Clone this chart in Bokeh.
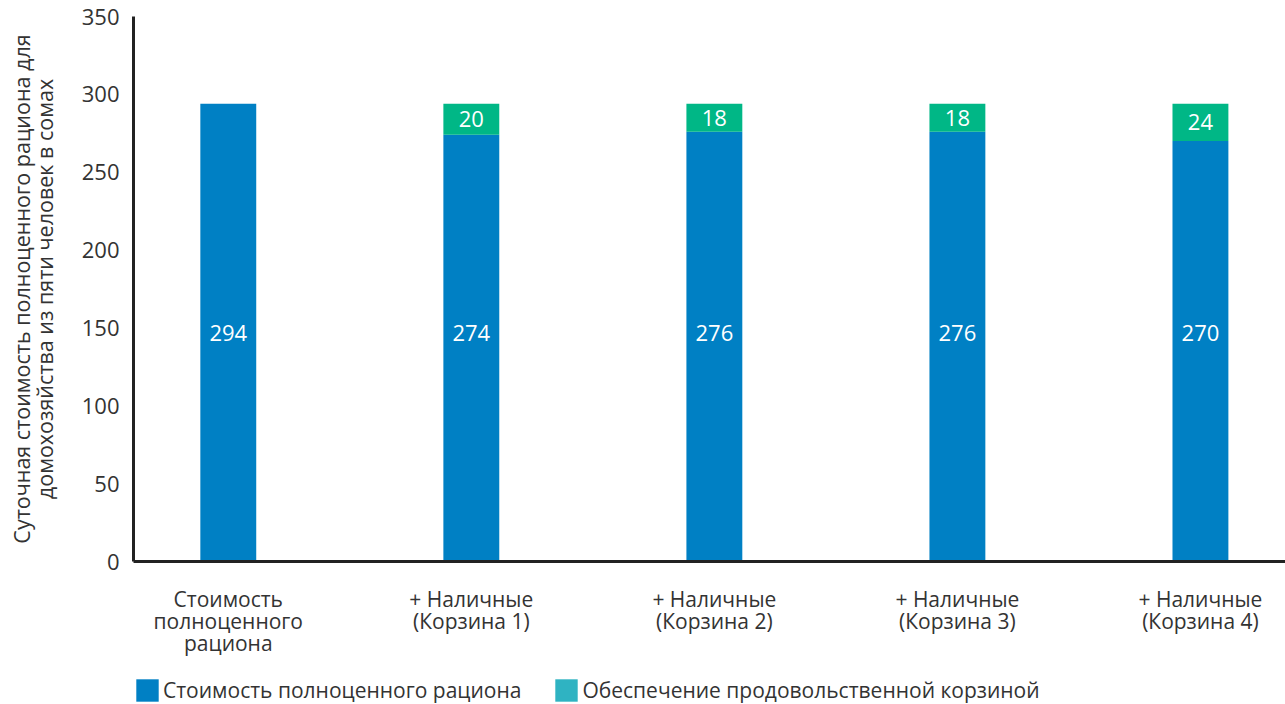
from bokeh.plotting import figure
from bokeh.layouts import column
from bokeh.models import ColumnDataSource, FixedTicker, Legend, LegendItem, Range1d, LabelSet
from bokeh.core.properties import value
from bokeh.embed import file_html
from bokeh.resources import INLINE

categories = ["Стоимость\nполноценного\nрациона",
              "+ Наличные\n(Корзина 1)",
              "+ Наличные\n(Корзина 2)",
              "+ Наличные\n(Корзина 3)",
              "+ Наличные\n(Корзина 4)"]
diet_cost = [294, 274, 276, 276, 270]
basket = [0, 20, 18, 18, 24]
y_ticks = [0, 50, 100, 150, 200, 250, 300, 350]
series_names = ["Стоимость полноценного рациона", "Обеспечение продовольственной корзиной"]

BLUE = "#0080C4"
GREEN = "#00B786"
TEAL = "#2FB3C2"
FONT = "Open Sans"
TXT = "#333333"

xs = list(range(len(categories)))
totals = [a + b for a, b in zip(diet_cost, basket)]
src = ColumnDataSource(dict(
    x=xs,
    diet=diet_cost,
    basket=basket,
    total=totals,
    diet_lbl=[str(v) for v in diet_cost],
    basket_lbl=[str(v) if v else "" for v in basket],
    diet_mid=[t / 2 for t in totals],
    basket_mid=[d + b / 2 for d, b in zip(diet_cost, basket)],
))

p = figure(width=1285, height=670, output_backend="svg", toolbar_location=None,
           x_range=Range1d(-0.39, 4.35), y_range=Range1d(0, 350),
           min_border_left=131, min_border_right=0, min_border_top=16, min_border_bottom=109)
p.outline_line_color = None
p.grid.grid_line_color = None
p.background_fill_color = "white"
p.border_fill_color = "white"

p.vbar(x="x", bottom=0, top="diet", width=0.23, source=src, fill_color=BLUE, line_color=None)
p.vbar(x="x", bottom="diet", top="total", width=0.23, source=src, fill_color=GREEN, line_color=None)

p.add_layout(LabelSet(x="x", y="diet_mid", text="diet_lbl", source=src, text_align="center",
                      text_baseline="middle", text_color="white", text_font=value(FONT),
                      text_font_size="22px"))
p.add_layout(LabelSet(x="x", y="basket_mid", text="basket_lbl", source=src, text_align="center",
                      text_baseline="middle", text_color="white", text_font=value(FONT),
                      text_font_size="22px"))

xa = p.xaxis[0]
xa.ticker = FixedTicker(ticks=xs)
xa.major_label_overrides = {i: c for i, c in enumerate(categories)}
xa.major_tick_line_color = None
xa.minor_tick_line_color = None
xa.axis_line_color = "#222222"
xa.axis_line_width = 3
xa.major_label_text_font = FONT
xa.major_label_text_font_size = "21px"
xa.major_label_text_line_height = 0.8
xa.major_label_text_color = TXT
xa.major_label_standoff = 17

ya = p.yaxis[0]
ya.ticker = FixedTicker(ticks=y_ticks)
ya.major_tick_line_color = None
ya.minor_tick_line_color = None
ya.axis_line_color = "#222222"
ya.axis_line_width = 3
ya.major_label_text_font = FONT
ya.major_label_text_font_size = "22px"
ya.major_label_text_color = TXT
ya.major_label_standoff = 8
ya.axis_label = "Суточная стоимость полноценного рациона для\nдомохозяйства из пяти человек в сомах"
ya.axis_label_text_font = FONT
ya.axis_label_text_font_size = "21.5px"
ya.axis_label_text_line_height = 0.8
ya.axis_label_text_font_style = "normal"
ya.axis_label_text_color = TXT
ya.axis_label_standoff = 20

# legend strip (second swatch is teal in the original legend)
lg = figure(width=1285, height=34, output_backend="svg", toolbar_location=None,
            x_range=Range1d(0, 1), y_range=Range1d(0, 1),
            min_border_left=133, min_border_right=0, min_border_top=0, min_border_bottom=0)
lg.axis.visible = False
lg.grid.grid_line_color = None
lg.outline_line_color = None
l1 = lg.vbar(x=[5], bottom=[5], top=[6], width=0.2, fill_color=BLUE, line_color=None)
l2 = lg.vbar(x=[5], bottom=[5], top=[6], width=0.2, fill_color=TEAL, line_color=None)
legend = Legend(items=[LegendItem(label=series_names[0], renderers=[l1]),
                       LegendItem(label=series_names[1], renderers=[l2])],
                orientation="horizontal", location="bottom_left",
                label_text_font=FONT, label_text_font_size="21px", label_text_color=TXT,
                glyph_width=28, glyph_height=28, label_standoff=2, spacing=31,
                padding=0, margin=0, border_line_color=None, background_fill_alpha=0,
                label_height=22)
lg.add_layout(legend, "center")

open("out.html", "w").write(file_html(column(p, lg, spacing=0), INLINE))
